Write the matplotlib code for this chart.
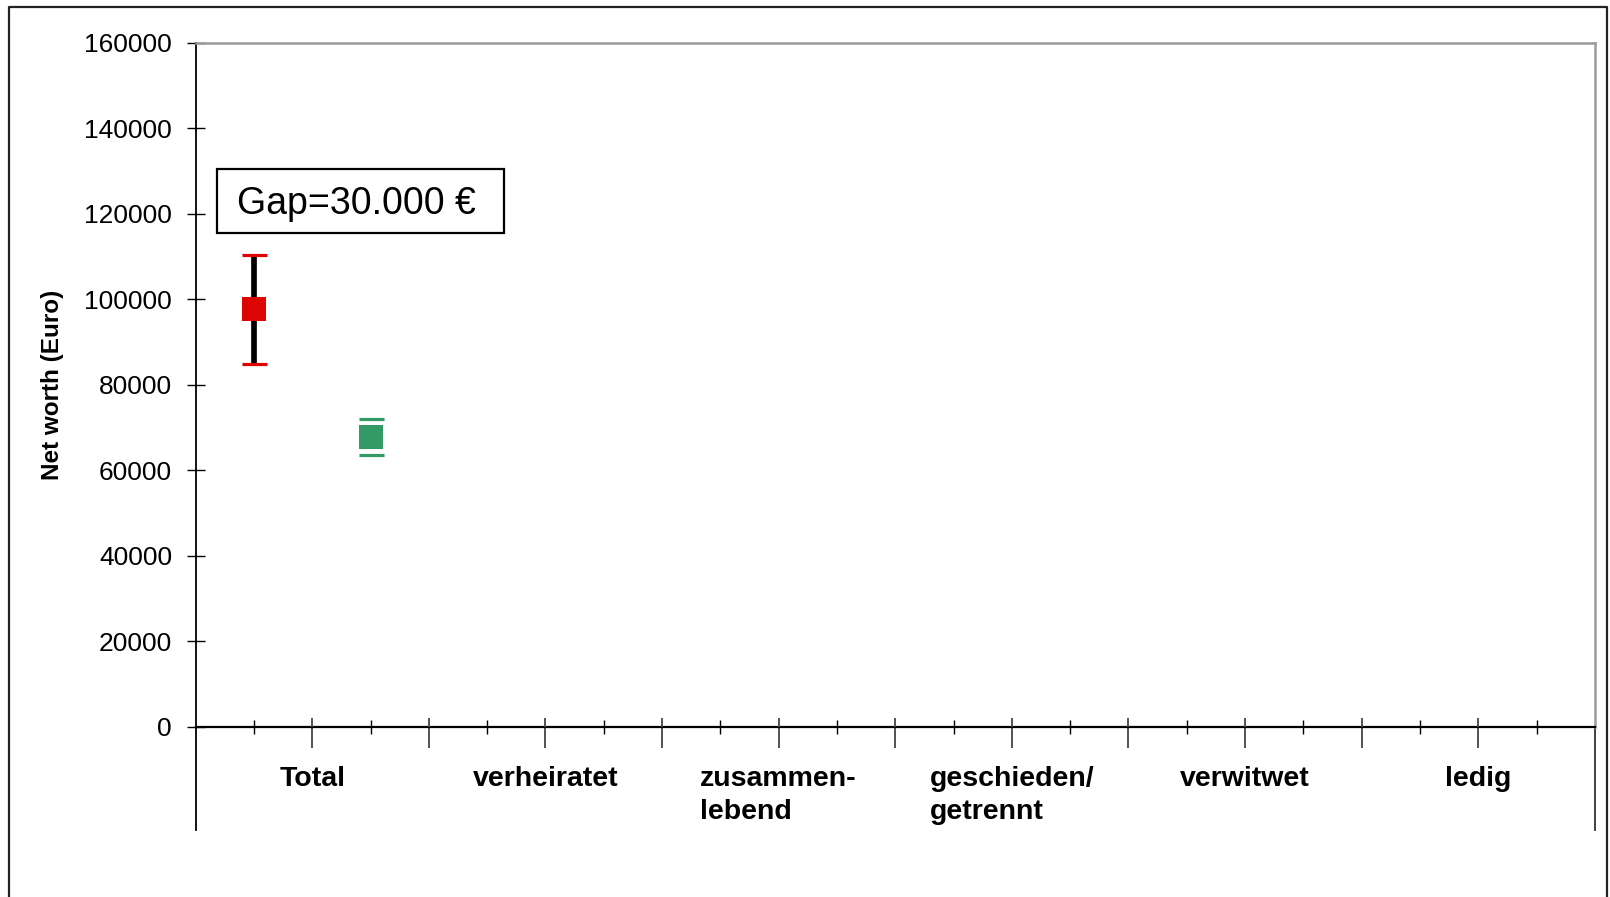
import numpy as np
import matplotlib
matplotlib.use("Agg")
import matplotlib.pyplot as plt
from matplotlib.lines import Line2D
from matplotlib.patches import Rectangle

# ---- data ----
groups = ["Total", "verheiratet", "zusammen-\nlebend", "geschieden/\ngetrennt", "verwitwet", "ledig"]
series_red = [97800, np.nan, np.nan, np.nan, np.nan, np.nan]
red_err_low = [13000, np.nan, np.nan, np.nan, np.nan, np.nan]
red_err_high = [12600, np.nan, np.nan, np.nan, np.nan, np.nan]
series_green = [67700, np.nan, np.nan, np.nan, np.nan, np.nan]
green_err_low = [4200, np.nan, np.nan, np.nan, np.nan, np.nan]
green_err_high = [4200, np.nan, np.nan, np.nan, np.nan, np.nan]
y_ticks = [0, 20000, 40000, 60000, 80000, 100000, 120000, 140000, 160000]
gap_label = "Gap=30.000 €"
y_label = "Net worth (Euro)"

plt.rcParams['font.family'] = ['Liberation Sans', 'DejaVu Sans']

W, H = 1610, 897
fig = plt.figure(figsize=(W / 100, H / 100), dpi=100)
px = 0.72  # points per pixel at dpi 100

ax_l, ax_r, ax_t, ax_b = 195.7, 1594.8, 42.8, 726.7
ax = fig.add_axes([ax_l / W, 1 - ax_b / H, (ax_r - ax_l) / W, (ax_b - ax_t) / H])

n_cat = 2 * len(groups)
x_red = np.arange(len(groups)) * 2 + 0.5
x_green = np.arange(len(groups)) * 2 + 1.5

red = "#DD0404"
green = "#339966"


def draw_series(x, y, lo, hi, color, line_color, line_width):
    res = ax.errorbar(x, y, yerr=[lo, hi], fmt='s', color=color, ms=17,
                      ecolor=line_color, elinewidth=line_width,
                      capsize=9, capthick=2.3, zorder=4)
    res[0].set_markeredgewidth(0)
    res[0].set_zorder(6)
    for c in res[1]:
        c.set_color(color)
        c.set_markeredgecolor(color)
        c.set_markeredgewidth(2.3)
        c.set_zorder(5)
    for lc in res[2]:
        lc.set_zorder(4)
    return res


draw_series(x_red, series_red, red_err_low, red_err_high, red, 'black', 4.1)
draw_series(x_green, series_green, green_err_low, green_err_high, green, 'white', 0.01)

ax.set_xlim(0, n_cat)
ax.set_ylim(0, 160000)

# y axis
ax.set_yticks(y_ticks)
ax.set_yticklabels([str(v) for v in y_ticks])
ax.tick_params(axis='y', direction='inout', length=18 * px, width=1.0, color='black',
               labelsize=19, pad=10.5)

# x axis ticks
bounds = np.arange(1, n_cat)
centers = np.arange(n_cat) + 0.5
ax.set_xticks(bounds)
ax.set_xticklabels([])
ax.set_xticks(centers, minor=True)
ax.tick_params(axis='x', which='major', direction='out', length=21 * px, width=1.3, color='#444444')
ax.tick_params(axis='x', which='minor', direction='inout', length=14 * px, width=1.0, color='black')
axh = ax_b - ax_t
ax.vlines(bounds, 0, 9 / axh, transform=ax.get_xaxis_transform(), colors='#444444', lw=1.3, zorder=3)

# spines
for s in ['top', 'right']:
    ax.spines[s].set_color('#9a9a9a')
    ax.spines[s].set_linewidth(1.8)
ax.spines['left'].set_color('black')
ax.spines['left'].set_linewidth(1.3)
ax.spines['bottom'].set_color('black')
ax.spines['bottom'].set_linewidth(1.6)

ext = (830 - ax_b) / axh
ax.add_line(Line2D([0, 0], [0, -ext], transform=ax.transAxes, color='black', lw=1.3, clip_on=False))
ax.add_line(Line2D([1, 1], [0, -ext], transform=ax.transAxes, color='#333333', lw=1.3, clip_on=False))

# category labels
for i, name in enumerate(groups):
    ax.text(2 * i + 1, -(765.5 - ax_b) / axh, name, transform=ax.get_xaxis_transform(),
            ha='center', va='top', multialignment='left', fontsize=20.5,
            fontweight='bold', linespacing=1.36, clip_on=False)

# y label
fig.text(53 / W, 1 - 385 / H, y_label, rotation=90, ha='center', va='center',
         fontsize=17.5, fontweight='bold')

# gap box
bx0, bx1, by0, by1 = 216.7, 504.3, 169.0, 233.3
fig.patches.append(Rectangle((bx0 / W, 1 - by1 / H), (bx1 - bx0) / W, (by1 - by0) / H,
                             transform=fig.transFigure, fill=True, facecolor='white',
                             edgecolor='black', lw=1.6, zorder=10))
fig.text(356.5 / W, 1 - 214 / H, gap_label, ha='center', va='baseline', fontsize=27, zorder=11)

# outer frame
fx0, fx1, fy0 = 8.5, 1606.5, 7.5
fig.lines.append(Line2D([fx0 / W, fx0 / W, fx1 / W, fx1 / W],
                        [-0.05, 1 - fy0 / H, 1 - fy0 / H, -0.05],
                        transform=fig.transFigure, color='#222222', lw=1.6))

fig.savefig("out.png", dpi=100)
